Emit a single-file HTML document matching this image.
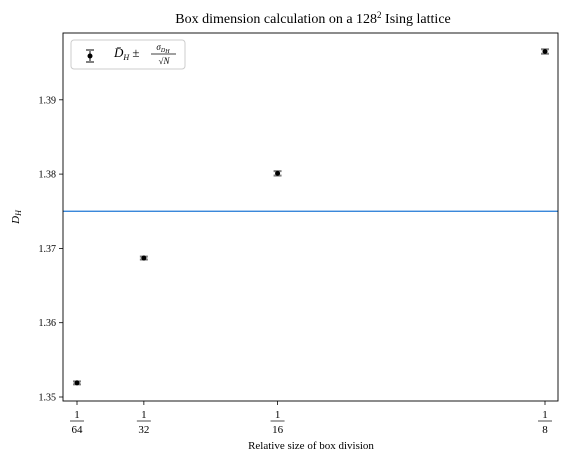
<!DOCTYPE html>
<html><head><meta charset="utf-8"><style>
body{margin:0;background:#fff;}
svg text{font-family:"Liberation Serif",serif;fill:#000;}
</style></head><body>
<svg id="chart" width="573" height="464" xmlns="http://www.w3.org/2000/svg">
<rect width="573" height="464" fill="#fff"/>
<text x="313" y="23" font-size="14" text-anchor="middle">Box dimension calculation on a 128<tspan font-size="9" dy="-5">2</tspan><tspan dy="5"> Ising lattice</tspan></text>
<g id="plot"></g>
<rect x="63" y="33" width="495" height="368" fill="none" stroke="#000" stroke-width="0.9"/>
<g>
<rect x="71" y="40" width="114" height="29" rx="3" fill="#fff" stroke="#ccc"/>
<g>
<line x1="90" y1="50" x2="90" y2="62" stroke="#808080" stroke-width="2"/>
<line x1="86" y1="50" x2="94" y2="50" stroke="#808080" stroke-width="2"/>
<line x1="86" y1="62" x2="94" y2="62" stroke="#808080" stroke-width="2"/>
<circle cx="90" cy="56" r="2.5" fill="#000"/>
<text x="114" y="57" font-size="13" font-style="italic">D̄<tspan font-size="8" dy="3">H</tspan><tspan dy="-3" font-style="normal"> ± </tspan></text>
<text x="163" y="50" font-size="9" font-style="italic" text-anchor="middle">σ<tspan font-size="6" dy="2">D</tspan><tspan font-size="6" dy="1">H</tspan></text>
<line x1="151" y1="54" x2="176" y2="54" stroke="#000" stroke-width="0.8"/>
<text x="164" y="64" font-size="9" font-style="italic" text-anchor="middle">√N</text>
</g>
</g>
<text transform="translate(19,217) rotate(-90)" font-size="11" font-style="italic" text-anchor="middle">D<tspan font-size="8" dy="2">H</tspan></text>
<text x="311" y="449" font-size="11" text-anchor="middle">Relative size of box division</text>
</svg>
<script>
const xCats = [1/64, 1/32, 1/16, 1/8];
const xTickDen = ["64", "32", "16", "8"];
const yValues = [1.3519, 1.3687, 1.3801, 1.3965];
const yErrors = [0.0002, 0.0002, 0.0003, 0.0003];
const yTicks = [1.35, 1.36, 1.37, 1.38, 1.39];
const refLine = [1.375];

const NS = "http://www.w3.org/2000/svg";
const g = document.getElementById("plot");
function xs(v){ return 77 + (v - 1/64) * (468 / (1/8 - 1/64)); }
function ys(v){ return 397 - (v - 1.35) * 7430; }
function mk(tag, attrs, parent){
  const e = document.createElementNS(NS, tag);
  for (const k in attrs) e.setAttribute(k, attrs[k]);
  (parent || g).appendChild(e);
  return e;
}
yTicks.forEach(t => {
  const y = ys(t);
  const l = mk("line", {x1:63, x2:59, y1:y, y2:y, stroke:"#000", "stroke-width":0.8});
  
  
  const tx = mk("text", {x:56, y:y+3.5, "font-size":10, "text-anchor":"end"});
  tx.textContent = t.toFixed(2);
  
  
});
xCats.forEach((c, i) => {
  const x = xs(c);
  const l = mk("line", {x1:x, x2:x, y1:401, y2:405, stroke:"#000", "stroke-width":0.8});
  
  
  const gr = mk("g", {});
  
  
  const n = mk("text", {x:x, y:418, "font-size":11, "text-anchor":"middle"}, gr);
  n.textContent = "1";
  mk("line", {x1:x-7, x2:x+7, y1:421, y2:421, stroke:"#000", "stroke-width":0.7}, gr);
  const d = mk("text", {x:x, y:433, "font-size":11, "text-anchor":"middle"}, gr);
  d.textContent = xTickDen[i];
});
refLine.forEach(v => {
  const l = mk("line", {x1:63, x2:558, y1:ys(v), y2:ys(v), stroke:"#1f77d4", "stroke-width":1.3});
  
  
});
xCats.forEach((c, i) => {
  const x = xs(c), y = ys(yValues[i]);
  const y1 = ys(yValues[i] + yErrors[i]), y2 = ys(yValues[i] - yErrors[i]);
  const gr = mk("g", {});
  
  
  mk("line", {x1:x, x2:x, y1:y1, y2:y2, stroke:"#808080", "stroke-width":2}, gr);
  mk("line", {x1:x-4, x2:x+4, y1:y1, y2:y1, stroke:"#808080", "stroke-width":2}, gr);
  mk("line", {x1:x-4, x2:x+4, y1:y2, y2:y2, stroke:"#808080", "stroke-width":2}, gr);
  mk("circle", {cx:x, cy:y, r:2.5, fill:"#000"}, gr);
});
</script>
</body></html>
